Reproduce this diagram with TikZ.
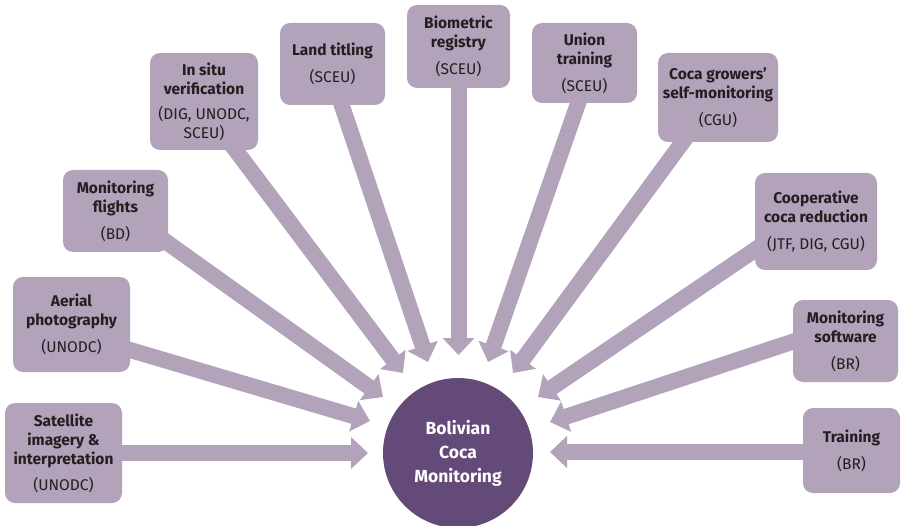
\documentclass[tikz,border=0pt]{standalone}
\usepackage{fontspec}
\setmainfont{Fira Sans}
\usetikzlibrary{arrows.meta,backgrounds}
\definecolor{boxfill}{RGB}{178,162,186}
\definecolor{hub}{RGB}{99,74,120}
\definecolor{ink}{RGB}{35,31,32}
\newcommand\hd[1]{\textbf{#1}}
\begin{document}
\begin{tikzpicture}[x=1pt,y=-1pt,
  box/.style={fill=boxfill, rounded corners=10pt, align=center, text=ink,
    font=\fontsize{15.5}{19}\selectfont, inner sep=0pt},
  hubnode/.style={circle, fill=hub, text=white, align=center, inner sep=0pt,
    minimum size=150pt, font=\fontsize{17.5}{24}\selectfont\bfseries},
  feed/.style={line width=16pt, draw=boxfill, -{Triangle[length=17pt,width=31pt]}}]
\useasboundingbox (0,0) rectangle (901,526);

\node[hubnode] (hub) at (458,453) {Bolivian\\Coca\\Monitoring};

\node[box, minimum width=117pt, minimum height=100pt] (sat) at (63.5,453)
  {\hd{Satellite}\\\hd{imagery \&}\\\hd{interpretation}\\[7pt](UNODC)};
\node[box, minimum width=117pt, minimum height=95pt] (aer) at (71.5,324.5)
  {\hd{Aerial}\\\hd{photography}\\[8pt](UNODC)};
\node[box, minimum width=105pt, minimum height=82pt] (fli) at (115.5,211)
  {\hd{Monitoring}\\\hd{flights}\\[8pt](BD)};
\node[box, minimum width=108pt, minimum height=97pt] (ins) at (204,101.5)
  {\hd{In situ}\\\hd{verification}\\[6pt](DIG, UNODC,\\SCEU)};
\node[box, minimum width=105pt, minimum height=82pt] (lan) at (332.5,64)
  {\hd{Land titling}\\[8pt](SCEU)};
\node[box, minimum width=103pt, minimum height=83pt] (bio) at (458.5,46.5)
  {\hd{Biometric}\\\hd{registry}\\[8pt](SCEU)};
\node[box, minimum width=105pt, minimum height=80pt] (uni) at (584.5,63)
  {\hd{Union}\\\hd{training}\\[8pt](SCEU)};
\node[box, minimum width=120pt, minimum height=89pt] (coc) at (718,97.5)
  {\hd{Coca growers'}\\\hd{self-monitoring}\\[8pt](CGU)};
\node[box, minimum width=122pt, minimum height=97pt] (coo) at (816,221.5)
  {\hd{Cooperative}\\\hd{coca reduction}\\[8pt](JTF, DIG, CGU)};
\node[box, minimum width=105pt, minimum height=82pt] (mon) at (845.5,341)
  {\hd{Monitoring}\\\hd{software}\\[8pt](BR)};
\node[box, minimum width=97pt, minimum height=85pt] (tra) at (851.5,450.5)
  {\hd{Training}\\[8pt](BR)};

% start points (inside boxes) and tips
\coordinate (satS) at (110,453);   \coordinate (satT) at (368,453);
\coordinate (aerS) at (120,347);   \coordinate (aerT) at (370,421);
\coordinate (fliS) at (158,236);   \coordinate (fliT) at (383,397);
\coordinate (insS) at (228,140);   \coordinate (insT) at (403,373);
\coordinate (lanS) at (338,94);    \coordinate (lanT) at (428,362);
\coordinate (bioS) at (458.5,76);  \coordinate (bioT) at (458.5,355);
\coordinate (uniS) at (582,92);    \coordinate (uniT) at (488,362);
\coordinate (cocS) at (690,132);   \coordinate (cocT) at (513,373);
\coordinate (cooS) at (765,243);   \coordinate (cooT) at (538,397);
\coordinate (monS) at (804,338);   \coordinate (monT) at (550,422);
\coordinate (traS) at (815,452);   \coordinate (traT) at (550,452);

\begin{scope}[on background layer]
  \foreach \n in {sat,aer,fli,ins,lan,bio,uni,coc,coo,mon,tra}
    \draw[feed] (\n S) -- (\n T);
\end{scope}
\end{tikzpicture}
\end{document}
